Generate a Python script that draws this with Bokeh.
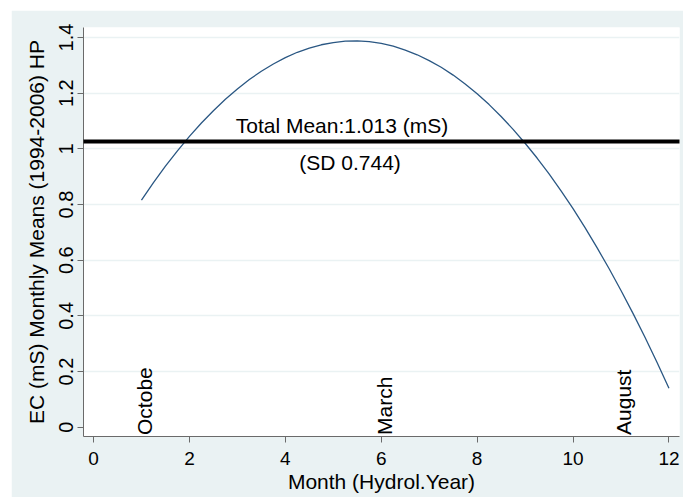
from bokeh.plotting import figure
from bokeh.models import (FixedTicker, BoxAnnotation, Spacer, ColumnDataSource)
from bokeh.layouts import column, row
from bokeh.core.properties import value
from bokeh.embed import file_html
from bokeh.resources import INLINE
import math

# ---- data ----
month = [1.00, 1.25, 1.50, 1.75, 2.00, 2.25, 2.50, 2.75, 3.00, 3.25, 3.50, 3.75,
         4.00, 4.25, 4.50, 4.75, 5.00, 5.25, 5.50, 5.75, 6.00, 6.25, 6.50, 6.75,
         7.00, 7.25, 7.50, 7.75, 8.00, 8.25, 8.50, 8.75, 9.00, 9.25, 9.50, 9.75,
         10.00, 10.25, 10.50, 10.75, 11.00, 11.25, 11.50, 11.75, 12.00]
ec_mean = [0.816, 0.879, 0.938, 0.993, 1.045, 1.093, 1.137, 1.178, 1.215, 1.249,
           1.279, 1.305, 1.328, 1.347, 1.362, 1.374, 1.382, 1.387, 1.388, 1.385,
           1.379, 1.369, 1.355, 1.338, 1.317, 1.293, 1.265, 1.233, 1.198, 1.159,
           1.116, 1.070, 1.020, 0.967, 0.910, 0.849, 0.785, 0.717, 0.645, 0.570,
           0.491, 0.409, 0.323, 0.233, 0.140]
total_mean_line = 1.026
mean_text = "Total Mean:1.013 (mS)"
sd_text = "(SD 0.744)"
month_names = ["Octobe", "March", "August"]
month_name_pos = [1, 6, 11]
x_ticks = [0, 2, 4, 6, 8, 10, 12]
y_ticks = [0, 0.2, 0.4, 0.6, 0.8, 1, 1.2, 1.4]
y_tick_labels = ["0", "0.2", "0.4", "0.6", "0.8", "1", "1.2", "1.4"]
grid_ticks = [0.2, 0.4, 0.6, 0.8, 1, 1.2, 1.4]

FONT = "Liberation Sans"
BG = "#EAF2F3"

p = figure(width=672, height=487, output_backend="svg", toolbar_location=None,
           x_range=(-0.209, 12.22), y_range=(-0.0335, 1.436),
           background_fill_color="white", border_fill_color=BG,
           outline_line_color=None,
           min_border_left=72, min_border_right=4, min_border_top=17,
           min_border_bottom=61)

# grid
p.xgrid.visible = False
p.ygrid.ticker = FixedTicker(ticks=grid_ticks)
p.ygrid.grid_line_color = BG
p.ygrid.grid_line_width = 1.5

# axes
for ax in (p.xaxis[0], p.yaxis[0]):
    ax.axis_line_color = "#6a6a6a"
    ax.major_tick_line_color = "#6a6a6a"
    ax.minor_tick_line_color = None
    ax.major_tick_out = 6
    ax.major_tick_in = 0
    ax.major_label_text_font = FONT
    ax.major_label_text_color = "black"
    ax.axis_label_text_font = FONT
    ax.axis_label_text_font_size = "21px"
    ax.axis_label_text_font_style = "normal"
    ax.axis_label_text_color = "black"

p.xaxis.major_label_text_font_size = "19px"
p.yaxis.major_label_text_font_size = "20px"
p.xaxis.ticker = FixedTicker(ticks=x_ticks)
p.yaxis.ticker = FixedTicker(ticks=y_ticks)
p.yaxis.major_label_overrides = {t: l for t, l in zip(y_ticks, y_tick_labels)}
p.yaxis.major_label_orientation = "vertical"
p.xaxis.axis_label = "Month (Hydrol.Year)"
p.yaxis.axis_label = "EC (mS) Monthly Means (1994-2006) HP"
p.xaxis.major_label_standoff = 9
p.xaxis.axis_label_standoff = 2
p.yaxis.major_label_standoff = 4
p.yaxis.axis_label_standoff = 9

# fitted curve
p.line(month, ec_mean, line_color="#2a5783", line_width=1.3)

# total mean line (extends slightly beyond the plot area)
half = 2.0 / 277.6
p.add_layout(BoxAnnotation(left=69, right=672, left_units="canvas", right_units="canvas",
                           bottom=total_mean_line - half, top=total_mean_line + half,
                           fill_color="black", fill_alpha=1.0, line_color=None,
                           level="overlay"))

# annotations
p.text(x=[5.18], y=[1.084], text=[mean_text], text_font=value(FONT),
       text_font_size="21px", text_align="center", text_baseline="alphabetic",
       text_color="black")
p.text(x=[5.35], y=[0.952], text=[sd_text], text_font=value(FONT),
       text_font_size="21px", text_align="center", text_baseline="alphabetic",
       text_color="black")

src = ColumnDataSource(dict(x=month_name_pos, y=[-0.028] * len(month_name_pos),
                            t=month_names))
p.text(x="x", y="y", text="t", source=src, angle=math.pi / 2,
       text_font=value(FONT), text_font_size="21px", text_align="left",
       text_baseline="alphabetic", x_offset=3, text_color="black")

layout = column(Spacer(height=10), row(Spacer(width=11), p))
open("out.html", "w").write(file_html(layout, INLINE))
